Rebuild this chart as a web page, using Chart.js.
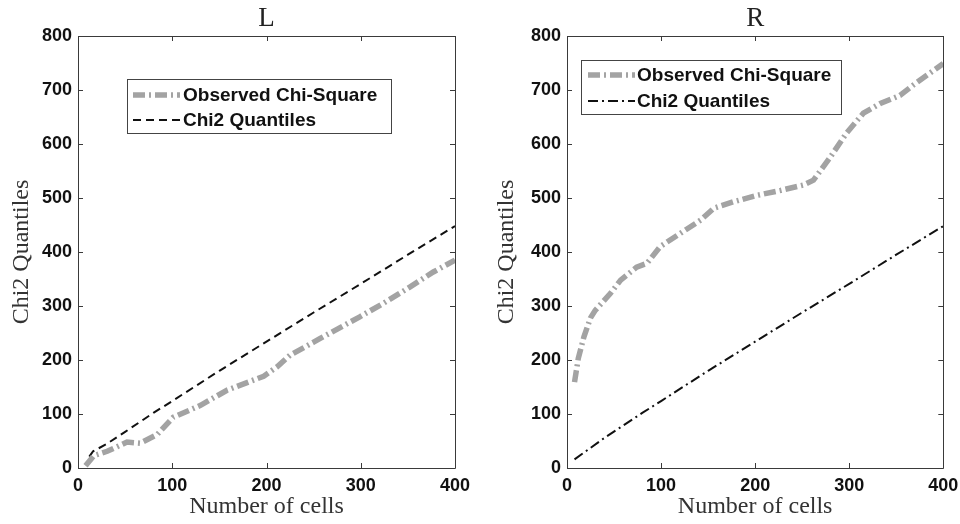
<!DOCTYPE html>
<html>
<head>
<meta charset="utf-8">
<script src="https://cdn.jsdelivr.net/npm/chart.js@4.4.1/dist/chart.umd.min.js"></script>
<style>
  html, body { margin: 0; padding: 0; background: #fff; }
  .wrap { position: absolute; top: 0; width: 480px; height: 524px; }
  #w1 { left: 0; } #w2 { left: 480px; }
</style>
</head>
<body>
<div class="wrap" id="w1"><canvas id="c1" width="480" height="524"></canvas></div>
<div class="wrap" id="w2"><canvas id="c2" width="480" height="524"></canvas></div>
<script>
// ---- Data ----
const panelTitles = ['L', 'R'];
const seriesNames = ['Observed Chi-Square', 'Chi2 Quantiles'];
const xTicks = [0, 100, 200, 300, 400];
const yTicks = [0, 100, 200, 300, 400, 500, 600, 700, 800];

// Left panel
const leftObsX = [8, 17, 31, 52, 66, 84, 101, 130, 158, 197, 211, 225, 250, 257, 299, 324, 352, 377, 400];
const leftObsY = [4, 23, 31, 48, 46, 62, 94, 116, 144, 170, 187, 209, 233, 240, 280, 305, 335, 363, 385];
const leftQX = [12, 16, 30, 50, 80, 100, 150, 200, 250, 300, 350, 400];
const leftQY = [21, 31, 44, 67, 102, 124, 180, 234, 288, 341, 395, 448];

// Right panel
const rightObsX = [8, 12, 18, 25, 30, 46, 57, 74, 85, 99, 120, 142, 156, 177, 202, 227, 251, 262, 280, 297, 315, 333, 354, 368, 400];
const rightObsY = [159, 203, 243, 278, 292, 323, 348, 372, 379, 410, 434, 459, 481, 493, 505, 514, 524, 533, 576, 620, 657, 675, 690, 709, 749];
const rightQX = [8, 20, 40, 60, 80, 100, 150, 200, 250, 300, 350, 400];
const rightQY = [16, 31, 56, 79, 102, 124, 180, 234, 288, 341, 395, 448];

function pts(xs, ys) { return xs.map((x, i) => ({ x: x, y: ys[i] })); }

const frameColor = '#3a3a3a';

// Frame + inward ticks on all four sides, and the panel title centred over the plot area
const framePlugin = {
  id: 'frame',
  afterDatasetsDraw(chart, args, opts) {
    const { ctx, chartArea: a, scales } = chart;
    const len = 5;
    ctx.save();
    ctx.strokeStyle = frameColor;
    ctx.lineWidth = 1;
    ctx.beginPath();
    ctx.rect(Math.round(a.left) + 0.5, Math.round(a.top) + 0.5, Math.round(a.right - a.left), Math.round(a.bottom - a.top));
    ctx.stroke();
    ctx.beginPath();
    scales.x.ticks.forEach(t => {
      const px = Math.round(scales.x.getPixelForValue(t.value)) + 0.5;
      ctx.moveTo(px, a.bottom); ctx.lineTo(px, a.bottom - len);
      ctx.moveTo(px, a.top); ctx.lineTo(px, a.top + len);
    });
    scales.y.ticks.forEach(t => {
      const py = Math.round(scales.y.getPixelForValue(t.value)) + 0.5;
      ctx.moveTo(a.left, py); ctx.lineTo(a.left + len, py);
      ctx.moveTo(a.right, py); ctx.lineTo(a.right - len, py);
    });
    ctx.stroke();
    ctx.fillStyle = '#222';
    ctx.font = '27px "Liberation Serif", "Times New Roman", serif';
    ctx.textAlign = 'center';
    ctx.textBaseline = 'alphabetic';
    ctx.fillText(opts.title, (a.left + a.right) / 2, 26);
    ctx.restore();
  }
};

// Boxed legend inside the plot area
const boxLegendPlugin = {
  id: 'boxLegend',
  afterDraw(chart, args, opts) {
    const { ctx } = chart;
    ctx.save();
    ctx.fillStyle = '#fff';
    ctx.fillRect(opts.x, opts.y, opts.w, opts.h);
    ctx.strokeStyle = '#444';
    ctx.lineWidth = 1;
    ctx.strokeRect(opts.x + 0.5, opts.y + 0.5, opts.w, opts.h);
    chart.data.datasets.forEach((ds, i) => {
      const cy = opts.rows[i];
      ctx.save();
      ctx.strokeStyle = ds.borderColor;
      ctx.lineWidth = ds.borderWidth;
      ctx.setLineDash(ds.borderDash || []);
      ctx.beginPath();
      ctx.moveTo(opts.s0, cy);
      ctx.lineTo(opts.s1, cy);
      ctx.stroke();
      ctx.restore();
      ctx.fillStyle = '#111';
      ctx.font = 'bold 19px "Liberation Sans", Arial, sans-serif';
      ctx.textBaseline = 'middle';
      ctx.textAlign = 'left';
      ctx.fillText(ds.label, opts.tx, cy + 1);
    });
    ctx.restore();
  }
};

function makeChart(canvasId, title, obs, q, qDash, cfg) {
  return new Chart(document.getElementById(canvasId), {
    type: 'line',
    data: {
      datasets: [
        { label: seriesNames[0], data: obs, borderColor: '#a3a3a3', borderWidth: 5.5,
          borderDash: [12, 4, 2, 4], pointRadius: 0, tension: 0, fill: false },
        { label: seriesNames[1], data: q, borderColor: '#111', borderWidth: 2,
          borderDash: qDash, pointRadius: 0, tension: 0, fill: false }
      ]
    },
    options: {
      responsive: false,
      animation: false,
      devicePixelRatio: 1,
      layout: { padding: { left: 0, right: cfg.padRight, top: 36, bottom: 0 } },
      plugins: {
        legend: { display: false },
        tooltip: { enabled: false },
        title: { display: false },
        frame: { title: title },
        boxLegend: cfg.legend
      },
      scales: {
        x: {
          type: 'linear', min: 0, max: 400,
          afterBuildTicks: s => { s.ticks = xTicks.map(v => ({ value: v })); },
          afterFit: s => { s.height = 56; s.paddingLeft = 0; s.paddingRight = 0; },
          grid: { display: false, drawTicks: false },
          border: { display: false },
          ticks: { color: '#111', padding: 7, maxRotation: 0,
            font: { family: '"Liberation Sans", Arial, sans-serif', size: 18, weight: 'bold' } },
          title: { display: true, text: 'Number of cells', color: '#333',
            font: { family: '"Liberation Serif", "Times New Roman", serif', size: 24, weight: 'normal' },
            padding: { top: 0, bottom: 3 } }
        },
        y: {
          type: 'linear', min: 0, max: 800,
          afterBuildTicks: s => { s.ticks = yTicks.map(v => ({ value: v })); },
          afterFit: s => { s.width = cfg.yWidth; s.paddingTop = 0; s.paddingBottom = 0; },
          grid: { display: false, drawTicks: false },
          border: { display: false },
          ticks: { color: '#111', padding: 6,
            font: { family: '"Liberation Sans", Arial, sans-serif', size: 18, weight: 'bold' } },
          title: { display: true, text: 'Chi2 Quantiles', color: '#333',
            font: { family: '"Liberation Serif", "Times New Roman", serif', size: 24, weight: 'normal' },
            padding: { top: cfg.yTitlePad, bottom: 0 } }
        }
      }
    },
    plugins: [framePlugin, boxLegendPlugin]
  });
}

makeChart('c1', panelTitles[0], pts(leftObsX, leftObsY), pts(leftQX, leftQY), [8, 5], {
  padRight: 25, yWidth: 78, yTitlePad: 7,
  legend: { x: 127, y: 79, w: 264, h: 54, s0: 133, s1: 180, tx: 183, rows: [95, 120] }
});
makeChart('c2', panelTitles[1], pts(rightObsX, rightObsY), pts(rightQX, rightQY), [10, 4, 2, 4], {
  padRight: 16.7, yWidth: 87, yTitlePad: 12.6,
  legend: { x: 101, y: 60, w: 260, h: 54, s0: 108, s1: 155, tx: 157, rows: [75, 101] }
});
</script>
</body>
</html>
